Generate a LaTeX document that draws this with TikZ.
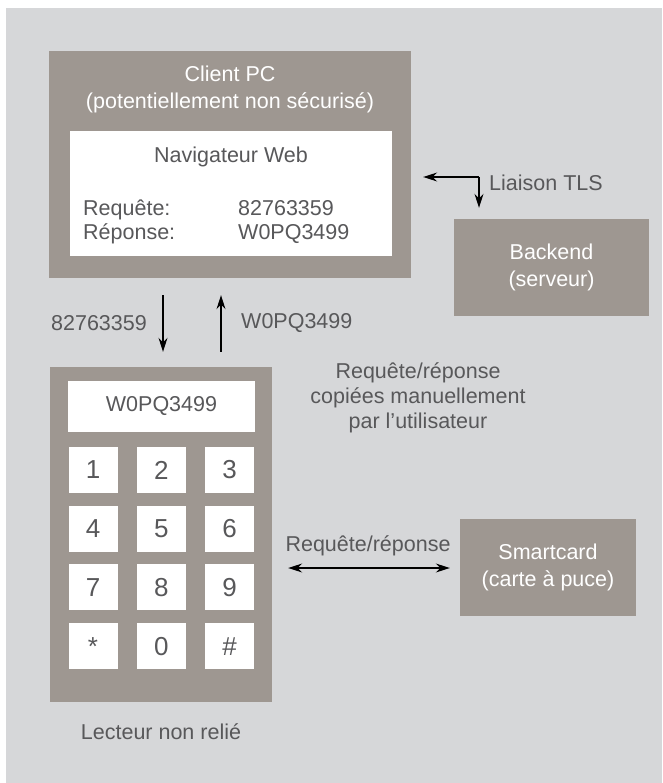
\documentclass[tikz,border=0pt]{standalone}
\usepackage{fontspec}
\setmainfont{Liberation Sans}
\usetikzlibrary{arrows.meta,positioning}
\definecolor{bggray}{HTML}{D6D7D9}
\definecolor{boxgray}{HTML}{9E9791}
\definecolor{txtgray}{HTML}{58585A}

\begin{document}
\begin{tikzpicture}[x=1pt,y=-1pt,
box/.style={fill=boxgray,inner sep=0pt,text=white,align=center,
font=\fontsize{21.5}{27}\selectfont},
pane/.style={fill=white,inner sep=0pt,text=txtgray,
font=\fontsize{21.5}{27}\selectfont},
keybox/.style={fill=white,inner sep=0pt,minimum width=49pt,
minimum height=46pt,text=txtgray,font=\fontsize{26}{26}\selectfont},
lbl/.style={inner sep=0pt,text=txtgray,align=center,
font=\fontsize{21.5}{25}\selectfont},
arr/.style={-{Stealth[length=14pt,width=9pt]},line width=1.2pt},
dblarr/.style={{Stealth[length=14pt,width=9pt]}-{Stealth[length=14pt,width=9pt]},line width=1.2pt}
]
\useasboundingbox (0,0) rectangle (662,783);
\fill[bggray] (6,8) rectangle (662,783);

% client PC with browser
\node[box,minimum width=362pt,minimum height=227pt] (client) at (230,164.5) {};
\node[box,anchor=center] (clienttxt) at (230,89.5) {Client PC\\(potentiellement non sécurisé)};
\node[pane,minimum width=322pt,minimum height=125pt] (browser) at (231,193.5) {};
\node[lbl] (navtxt) at (231,157) {Navigateur Web};
\node[lbl,anchor=base west] (reqlbl) at (83,215.5) {Requête:};
\node[lbl,anchor=base west] (replbl) at (83,239.5) {Réponse:};
\node[lbl,anchor=base west] (reqval) at (238,215.5) {82763359};
\node[lbl,anchor=base west] (repval) at (238,239.5) {W0PQ3499};

% backend
\node[box,minimum width=195pt,minimum height=97pt] (backend) at (551.5,267.5) {Backend\\(serveur)};
\coordinate (tls) at (479,177);
\draw[arr,shorten >=12pt] (tls) -- (tls -| client.east);
\draw[arr,shorten >=11pt] (tls) -- (tls |- backend.north);
\node[lbl,anchor=west] (tlstxt) at (489,183) {Liaison TLS};

% offline reader
\node[box,minimum width=222pt,minimum height=335pt] (reader) at (161,534.5) {};
\node[pane,minimum width=187pt,minimum height=51pt] (display) at (161.5,406.5) {W0PQ3499};
\foreach \k [count=\i from 0] in {1,2,3,4,5,6,7,8,9,*,0,\#}
  \node[keybox] (key\i) at ({93+68.3*mod(\i,3)},{470+58.7*int(\i/3)}) {\k};
\node[lbl] (readertxt) at (161,732) {Lecteur non relié};

% manual copy
\coordinate (dn) at (163,0);
\coordinate (up) at (221,0);
\draw[arr,shorten <=17pt,shorten >=15pt] (dn |- client.south) -- (dn |- reader.north);
\draw[arr,shorten <=15pt,shorten >=17pt] (up |- reader.north) -- (up |- client.south);
\node[lbl,anchor=east] (dntxt) at (147,323) {82763359};
\node[lbl,anchor=west] (uptxt) at (241,323) {W0PQ3499};
\node[lbl] (copytxt) at (418,398) {Requête/réponse\\copiées manuellement\\par l’utilisateur};

% smartcard
\node[box,minimum width=176pt,minimum height=97pt] (card) at (548,567.5) {Smartcard\\(carte à puce)};
\coordinate (sc) at (0,568);
\draw[dblarr,shorten <=16pt,shorten >=10pt] (reader.east |- sc) -- (card.west |- sc);
\node[lbl] (cardtxt) at (368,546) {Requête/réponse};
\end{tikzpicture}
\end{document}
